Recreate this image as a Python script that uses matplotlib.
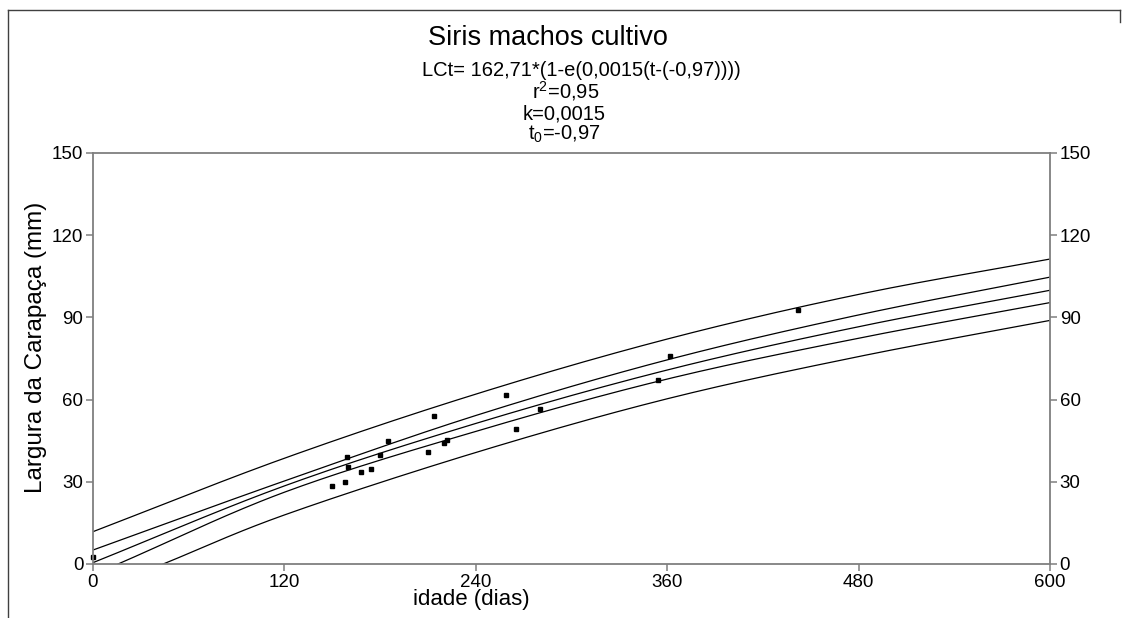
import matplotlib
matplotlib.use("Agg")
import matplotlib.pyplot as plt
from matplotlib.lines import Line2D
import numpy as np

plt.rcParams['font.family'] = ['Liberation Sans', 'DejaVu Sans']
plt.rcParams['mathtext.fontset'] = 'custom'
plt.rcParams['mathtext.rm'] = 'Liberation Sans'

# observed points
ages = [0, 150, 158, 159, 160, 168, 174, 180, 185, 210, 214, 220, 222, 259, 265, 280, 354, 362, 442]
widths = [2.4, 28.4, 30.0, 39.2, 35.5, 33.6, 34.6, 39.7, 44.8, 40.8, 54.0, 44.3, 45.4, 61.7, 49.4, 56.6, 67.3, 75.9, 92.8]

# curves (age, width)
upper_pred_t = [0, 120, 240, 360, 480, 600]
upper_pred = [11.8, 38.6, 62.0, 82.1, 98.4, 111.3]
upper_conf_t = [0, 120, 240, 360, 480, 600]
upper_conf = [5.1, 30.3, 54.2, 74.5, 90.9, 104.7]
fitted_t = [0, 120, 240, 360, 480, 600]
fitted = [0.5, 28.5, 51.3, 70.8, 86.6, 99.9]
lower_conf_t = [15.7, 120, 240, 360, 480, 600]
lower_conf = [0.0, 26.2, 48.4, 67.5, 82.4, 95.4]
lower_pred_t = [44, 120, 240, 360, 480, 600]
lower_pred = [0.0, 17.9, 40.7, 60.3, 75.7, 88.9]

x_ticks = [0, 120, 240, 360, 480, 600]
y_ticks = [0, 30, 60, 90, 120, 150]


def smooth_path(xs, ys, n=30):
    """Catmull-Rom path passing through every read point (rendering only)."""
    P = np.column_stack([xs, ys]).astype(float)
    P = np.vstack([2 * P[0] - P[1], P, 2 * P[-1] - P[-2]])
    out = []
    u = np.linspace(0, 1, n, endpoint=False)[:, None]
    for i in range(1, len(P) - 2):
        p0, p1, p2, p3 = P[i - 1], P[i], P[i + 1], P[i + 2]
        seg = 0.5 * ((2 * p1) + (-p0 + p2) * u + (2 * p0 - 5 * p1 + 4 * p2 - p3) * u ** 2
                     + (-p0 + 3 * p1 - 3 * p2 + p3) * u ** 3)
        out.append(seg)
    out.append(P[-2][None, :])
    out = np.vstack(out)
    return out[:, 0], out[:, 1]


W, H = 1122, 618
fig = plt.figure(figsize=(W / 100, H / 100), dpi=100)
ax = fig.add_axes([93 / W, (H - 564) / H, 957 / W, 411 / H])

for tt, c in ((upper_pred_t, upper_pred), (upper_conf_t, upper_conf), (fitted_t, fitted),
              (lower_conf_t, lower_conf), (lower_pred_t, lower_pred)):
    sx, sy = smooth_path(tt, c)
    ax.plot(sx, sy, color='black', lw=0.9)
ax.plot(ages, widths, 's', color='black', markersize=2.8, clip_on=False)

ax.set_xlim(0, 600)
ax.set_ylim(0, 150)
ax.set_xticks(x_ticks)
ax.set_yticks(y_ticks)
for s in ax.spines.values():
    s.set_color('#7f7f7f')
    s.set_linewidth(1.3)
ax.tick_params(axis='both', direction='out', length=5, width=1.1, color='#7f7f7f',
               labelsize=13.5, pad=2)
ax.tick_params(axis='y', right=True, labelright=True)

ax.set_ylabel('Largura da Carapaça (mm)', fontsize=17.5)
ax.yaxis.set_label_coords(-(93 - 47) / 957, (564 - 347.5) / 411)

def ft(x, y, s, **kw):
    fig.text(x / W, 1 - y / H, s, ha='center', va='baseline', **kw)

ft(548, 45, 'Siris machos cultivo', fontsize=19.5)
ft(581, 76, 'LCt= 162,71*(1-e(0,0015(t-(-0,97))))', fontsize=14.5)
ft(566, 98, r'r$^{\mathregular{2}}$=0,95', fontsize=14.5)
ft(564, 120, 'k=0,0015', fontsize=14.5)
ft(564, 140, r't$_{\mathregular{0}}$=-0,97', fontsize=14.5)
# x-axis title
ft(471, 605, 'idade (dias)', fontsize=16)

# outer frame fragments
fig.add_artist(Line2D([8 / W, 1120 / W], [1 - 10 / H, 1 - 10 / H], color='#404040', lw=1))
fig.add_artist(Line2D([8 / W, 8 / W], [1 - 10 / H, 0], color='#404040', lw=1))
fig.add_artist(Line2D([1120 / W, 1120 / W], [1 - 10 / H, 1 - 22 / H], color='#404040', lw=1))

fig.savefig('out.png', dpi=100)
